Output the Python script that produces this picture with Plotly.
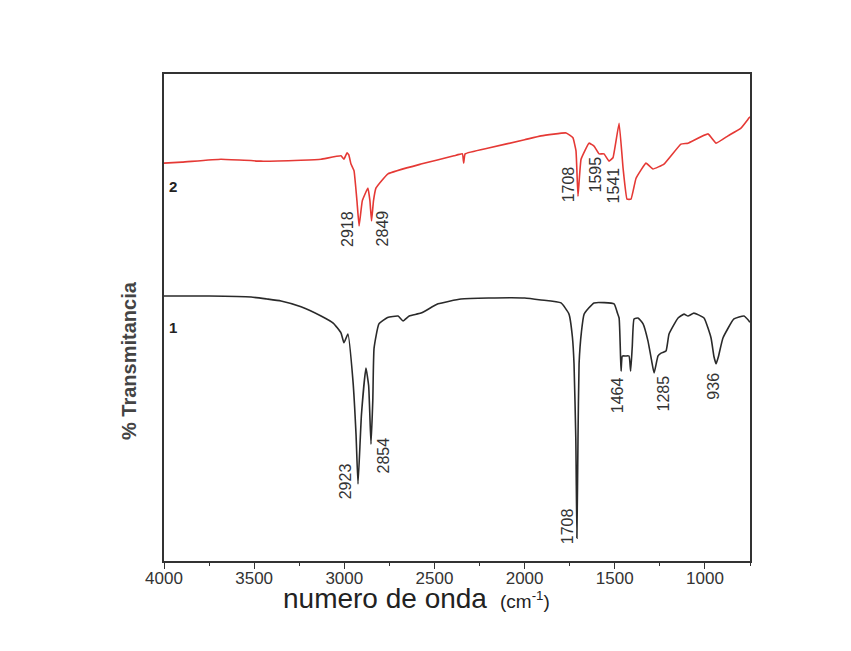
import plotly.graph_objects as go

# ---- data: spectrum 1 (black) ----
wn1 = [4000, 3750, 3517, 3430, 3351, 3240, 3129, 3060, 3018, 3002, 2980, 2952, 2935, 2924,
       2905, 2880, 2865, 2852, 2842, 2835, 2808, 2760, 2702, 2674, 2640, 2575, 2480, 2353,
       2200, 2000, 1909, 1798, 1754, 1735, 1726, 1716, 1710, 1704, 1698, 1685, 1670, 1615,
       1504, 1486, 1476, 1468, 1465, 1458, 1440, 1421, 1412, 1403, 1393, 1371, 1343, 1316,
       1295, 1282, 1260, 1243, 1216, 1199, 1149, 1116, 1094, 1061, 1005, 966, 950, 938, 925,
       900, 839, 783, 756, 750]
t1 = [54.4, 54.4, 54.2, 53.8, 53.4, 52.2, 50.3, 48.8, 46.8, 44.8, 46.6, 37.0, 26.0, 15.8,
      30.0, 39.6, 36.0, 24.0, 33.0, 43.7, 48.7, 50.0, 50.3, 49.3, 50.3, 50.9, 52.8, 53.8,
      54.0, 54.0, 53.6, 53.0, 50.7, 46.0, 40.5, 25.0, 4.7, 25.0, 40.5, 47.0, 50.7, 53.0,
      52.8, 51.0, 49.9, 42.0, 39.0, 42.1, 42.1, 42.1, 39.0, 44.0, 49.7, 49.9, 48.7, 45.2,
      41.0, 38.6, 42.1, 42.7, 43.1, 46.6, 49.9, 50.7, 50.3, 50.9, 49.9, 45.8, 42.0, 40.5, 42.0,
      45.8, 49.7, 50.3, 49.3, 49.0]

# ---- data: spectrum 2 (red) ----
wn2 = [4000, 3900, 3684, 3462, 3240, 3129, 3018, 3002, 2985, 2975, 2963, 2946, 2930, 2918,
       2900, 2869, 2858, 2849, 2838, 2824, 2758, 2575, 2392, 2345, 2338, 2330, 2200, 2000,
       1909, 1770, 1732, 1715, 1704, 1687, 1643, 1615, 1587, 1560, 1532, 1510, 1476, 1454,
       1432, 1410, 1382, 1327, 1288, 1227, 1133, 1094, 983, 938, 872, 800, 755, 750]
t2 = [81.7, 81.9, 82.5, 82.1, 82.3, 82.5, 83.2, 82.5, 83.8, 83.4, 81.5, 80.1, 74.0, 68.8,
      74.0, 76.6, 74.0, 69.8, 74.0, 76.6, 79.5, 81.5, 83.2, 83.6, 81.7, 83.6, 84.8, 86.5,
      87.3, 87.9, 86.9, 84.2, 74.9, 82.5, 85.8, 85.2, 83.6, 83.6, 82.1, 82.8, 89.9, 80.7,
      74.3, 74.3, 78.6, 81.7, 80.5, 81.5, 85.6, 85.8, 87.7, 85.8, 87.3, 88.9, 91.0, 91.2]

# ---- peak labels ----
peaks1 = [2923, 2854, 1708, 1464, 1285, 936]
peaks2 = [2918, 2849, 1708, 1595, 1541]
tick_vals = [4000, 3500, 3000, 2500, 2000, 1500, 1000]
tick_text = ["4000", "3500", "3000", "2500", "2000", "1500", "1000"]

# label placement (layout only)
lab1_y = [16.4, 21.6, 7.2, 34.1, 34.3, 35.9]
lab1_dx = [-13, 13, -9, -3, 10, -3]
lab2_y = [68.2, 68.2, 77.4, 79.3, 77.2]
lab2_dx = [-11, 11, -9, -2, 6]

FONT = "Arial, Liberation Sans, sans-serif"
# plot frame in page pixels (page body has an 8px offset)
OFF = 7
L, R, T, B = 163, 749, 73, 560

fig = go.Figure()
fig.add_trace(go.Scatter(x=wn1, y=t1, mode="lines",
                         line=dict(color="#2a2a2a", width=1.6, shape="spline", smoothing=0.4),
                         showlegend=False))
fig.add_trace(go.Scatter(x=wn2, y=t2, mode="lines",
                         line=dict(color="#e53935", width=1.6, shape="spline", smoothing=0.3),
                         showlegend=False))

ann = []
font_lab = dict(family=FONT, size=16, color="#333333")
for p, y, dx in zip(peaks1, lab1_y, lab1_dx):
    ann.append(dict(x=p, y=y, xref="x", yref="y", text=str(p), showarrow=False,
                    textangle=-90, xshift=dx, font=font_lab))
for p, y, dx in zip(peaks2, lab2_y, lab2_dx):
    ann.append(dict(x=p, y=y, xref="x", yref="y", text=str(p), showarrow=False,
                    textangle=-90, xshift=dx, font=font_lab))
ann.append(dict(x=3950, y=48.0, xref="x", yref="y", text="<b>1</b>", showarrow=False,
                font=dict(family=FONT, size=15, color="#222")))
ann.append(dict(x=3950, y=77.0, xref="x", yref="y", text="<b>2</b>", showarrow=False,
                font=dict(family=FONT, size=15, color="#222")))
# axis titles (positions given in reference pixels, converted to paper coords)
ann.append(dict(x=(128 - L) / (R - L), y=(B - 360) / (B - T), xref="paper", yref="paper",
                xanchor="center", yanchor="middle",
                text="<b>% Transmitancia</b>", showarrow=False, textangle=-90,
                font=dict(family=FONT, size=20, color="#444")))
ann.append(dict(x=(415 - L) / (R - L), y=(B - 597) / (B - T), xref="paper", yref="paper",
                xanchor="center", yanchor="middle",
                text="numero de onda <span style='font-size:19px'>&nbsp;(cm<sup>-1</sup>)</span>",
                showarrow=False,
                font=dict(family=FONT, size=28, color="#222")))

fig.update_layout(
    width=851, height=651,
    margin=dict(l=L - OFF, r=851 - R + OFF, t=T - OFF, b=651 - B + OFF),
    paper_bgcolor="white", plot_bgcolor="white",
    annotations=ann,
    xaxis=dict(range=[4000, 750], tickvals=tick_vals, ticktext=tick_text,
               ticks="outside", ticklen=6, tickwidth=1.3, tickcolor="#333",
               ticklabelstandoff=-5,
               minor=dict(dtick=250, ticks="outside", ticklen=3, tickwidth=1.3, tickcolor="#333"),
               showline=True, linecolor="#333", linewidth=1.6, mirror=True,
               showgrid=False, zeroline=False,
               tickfont=dict(family=FONT, size=17, color="#333")),
    yaxis=dict(range=[0, 100], showticklabels=False, ticks="",
               showline=True, linecolor="#333", linewidth=1.6, mirror=True,
               showgrid=False, zeroline=False),
)

fig.write_html("out.html")
